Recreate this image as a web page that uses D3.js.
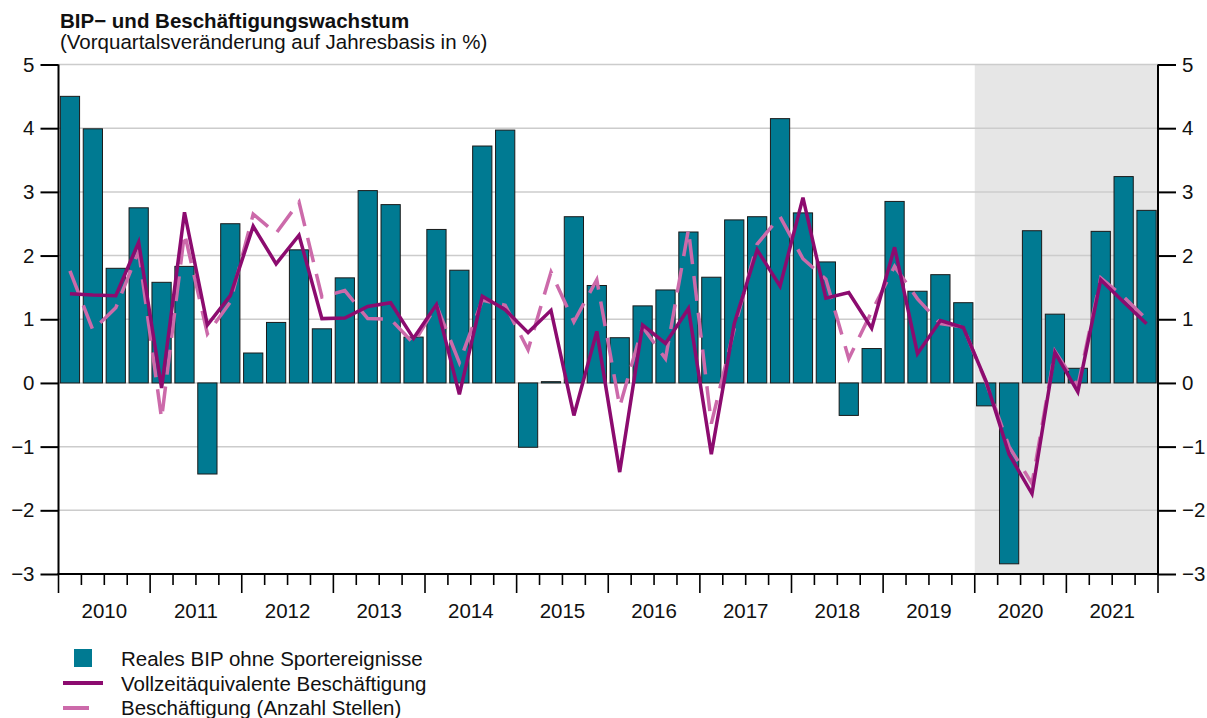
<!DOCTYPE html>
<html>
<head>
<meta charset="utf-8">
<script src="https://cdn.jsdelivr.net/npm/d3@7"></script>
<style>
  html, body { margin: 0; padding: 0; background: #fff; }
  svg text { font-family: "Liberation Sans", Arial, Helvetica, sans-serif; fill: #111; }
</style>
</head>
<body>
<svg id="chart" width="1207" height="718"></svg>
<script>
// Quarterly growth, q/q annualised (%), 2010 Q1 – 2021 Q4
const years = ["2010","2011","2012","2013","2014","2015","2016","2017","2018","2019","2020","2021"];
const quarters = ["Q1","Q2","Q3","Q4"];

// Real GDP excluding sporting events
const gdp = [
  4.50, 3.99, 1.80, 2.75,
  1.58, 1.83, -1.43, 2.50,
  0.47, 0.95, 2.09, 0.85,
  1.65, 3.02, 2.80, 0.72,
  2.41, 1.77, 3.72, 3.97,
  -1.01, 0.02, 2.61, 1.53,
  0.71, 1.21, 1.46, 2.37,
  1.66, 2.56, 2.61, 4.15,
  2.67, 1.90, -0.51, 0.54,
  2.85, 1.44, 1.70, 1.26,
  -0.36, -2.84, 2.39, 1.08,
  0.23, 2.38, 3.24, 2.71
];

// Full-time equivalent employment
const fte = [
  1.40, 1.38, 1.37, 2.21,
  -0.08, 2.68, 0.91, 1.37,
  2.46, 1.87, 2.32, 1.01,
  1.02, 1.20, 1.26, 0.70,
  1.23, -0.18, 1.36, 1.15,
  0.79, 1.14, -0.51, 0.81,
  -1.40, 0.91, 0.62, 1.17,
  -1.12, 0.93, 2.09, 1.52,
  2.91, 1.33, 1.42, 0.86,
  2.13, 0.46, 0.98, 0.87,
  0.02, -1.12, -1.74, 0.48,
  -0.14, 1.62, 1.27, 0.93
];

// Employment (number of jobs)
const jobs = [
  1.76, 0.83, 1.18, 2.07,
  -0.56, 2.35, 0.77, 1.27,
  2.65, 2.35, 2.84, 1.35,
  1.45, 1.01, 1.00, 0.62,
  1.22, 0.32, 1.30, 1.22,
  0.52, 1.74, 0.96, 1.62,
  -0.37, 0.88, 0.38, 2.41,
  -0.64, 0.85, 2.18, 2.61,
  1.95, 1.63, 0.38, 1.12,
  1.83, 1.32, 0.93, 0.88,
  0.00, -1.00, -1.58, 0.50,
  -0.05, 1.65, 1.35, 1.00
];

const yTicks = [5, 4, 3, 2, 1, 0, -1, -2, -3];
const shadedFrom = "2020";

const seriesNames = [
  "Reales BIP ohne Sportereignisse",
  "Vollzeitäquivalente Beschäftigung",
  "Beschäftigung (Anzahl Stellen)"
];

const colors = { bar: "#007A92", fte: "#8C0B6F", jobs: "#CC6AAA", grid: "#CCCCCC", shade: "#E6E6E6" };
const fontSize = "20.5px";

const periods = years.flatMap(y => quarters.map(q => y + q));

const svg = d3.select("#chart");
const margin = { left: 58.5, right: 49, top: 64.5, bottom: 144 };
const W = 1207, H = 718;
const x0 = margin.left, x1 = W - margin.right;
const y0 = margin.top, y1 = H - margin.bottom;

const x = d3.scaleBand().domain(periods).range([x0, x1]).paddingInner(0.16).paddingOuter(0.08);
const xYear = d3.scaleBand().domain(years).range([x0, x1]);
const y = d3.scaleLinear().domain([-3, 5]).range([y1, y0]);
const step = x.step();
const bound = i => x0 + i * step;

// shaded period
svg.append("rect")
  .attr("x", xYear(shadedFrom)).attr("y", y(5))
  .attr("width", x1 - xYear(shadedFrom)).attr("height", y(-3) - y(5))
  .attr("fill", colors.shade);

// horizontal grid
svg.append("g").selectAll("line").data(yTicks).join("line")
  .attr("x1", x0).attr("x2", x1)
  .attr("y1", d => y(d)).attr("y2", d => y(d))
  .attr("stroke", colors.grid).attr("stroke-width", 1.5);

// bars
svg.append("g").selectAll("rect").data(gdp).join("rect")
  .attr("x", (d, i) => x(periods[i]))
  .attr("width", x.bandwidth())
  .attr("y", d => y(Math.max(0, d)))
  .attr("height", d => Math.abs(y(d) - y(0)))
  .attr("fill", colors.bar)
  .attr("stroke", "#1a1a1a").attr("stroke-width", 1);

const line = d3.line()
  .x((d, i) => x(periods[i]) + x.bandwidth() / 2)
  .y(d => y(d));

svg.append("path").datum(jobs)
  .attr("d", line).attr("fill", "none")
  .attr("stroke", colors.jobs).attr("stroke-width", 3.5)
  .attr("stroke-dasharray", "25,12");

svg.append("path").datum(fte)
  .attr("d", line).attr("fill", "none")
  .attr("stroke", colors.fte).attr("stroke-width", 3.5)
  .attr("stroke-linejoin", "miter");

// y axes
const fmt = d => d < 0 ? "\u2212" + Math.abs(d) : d;
const axisL = d3.axisLeft(y).tickValues(yTicks).tickSize(18).tickPadding(6).tickFormat(fmt);
const axisR = d3.axisRight(y).tickValues(yTicks).tickSize(18).tickPadding(6).tickFormat(fmt);

const gL = svg.append("g").attr("transform", `translate(${x0},0)`).call(axisL);
const gR = svg.append("g").attr("transform", `translate(${x1},0)`).call(axisR);
[gL, gR].forEach(g => {
  g.select(".domain").attr("stroke", "#000").attr("stroke-width", 2).attr("d", `M0,${y0}V${y1}`);
  g.selectAll(".tick line").attr("stroke", "#000").attr("stroke-width", 2);
  g.selectAll(".tick text").style("font-size", fontSize).attr("fill", "#111");
});

// x axis: quarter ticks short, year ticks long
const gX = svg.append("g");
gX.append("line").attr("x1", x0 - 1).attr("x2", x1 + 1).attr("y1", y1).attr("y2", y1)
  .attr("stroke", "#000").attr("stroke-width", 2);
gX.selectAll("line.qt").data(d3.range(periods.length + 1)).join("line")
  .attr("class", "qt")
  .attr("x1", i => bound(i)).attr("x2", i => bound(i))
  .attr("y1", y1).attr("y2", i => y1 + (i % 4 === 0 ? 19 : 11))
  .attr("stroke", "#000").attr("stroke-width", 1.6);
gX.selectAll("text").data(years).join("text")
  .attr("x", d => xYear(d) + xYear.bandwidth() / 2)
  .attr("y", 618)
  .attr("text-anchor", "middle")
  .style("font-size", fontSize)
  .text(d => d);

// titles
svg.append("text").attr("x", 60).attr("y", 28)
  .style("font-size", fontSize).style("font-weight", "bold")
  .text("BIP\u2212 und Beschäftigungswachstum");
svg.append("text").attr("x", 60).attr("y", 49)
  .style("font-size", fontSize)
  .text("(Vorquartalsveränderung auf Jahresbasis in %)");

// legend
const lg = svg.append("g");
lg.append("rect").attr("x", 74).attr("y", 649).attr("width", 18).attr("height", 18).attr("fill", colors.bar);
lg.append("line").attr("x1", 63).attr("x2", 103).attr("y1", 683).attr("y2", 683)
  .attr("stroke", colors.fte).attr("stroke-width", 4);
lg.append("line").attr("x1", 63).attr("x2", 89).attr("y1", 708).attr("y2", 708)
  .attr("stroke", colors.jobs).attr("stroke-width", 4);
lg.selectAll("text").data(seriesNames).join("text")
  .attr("x", 121).attr("y", (d, i) => 666 + i * 24.5)
  .style("font-size", fontSize)
  .text(d => d);
</script>
</body>
</html>
